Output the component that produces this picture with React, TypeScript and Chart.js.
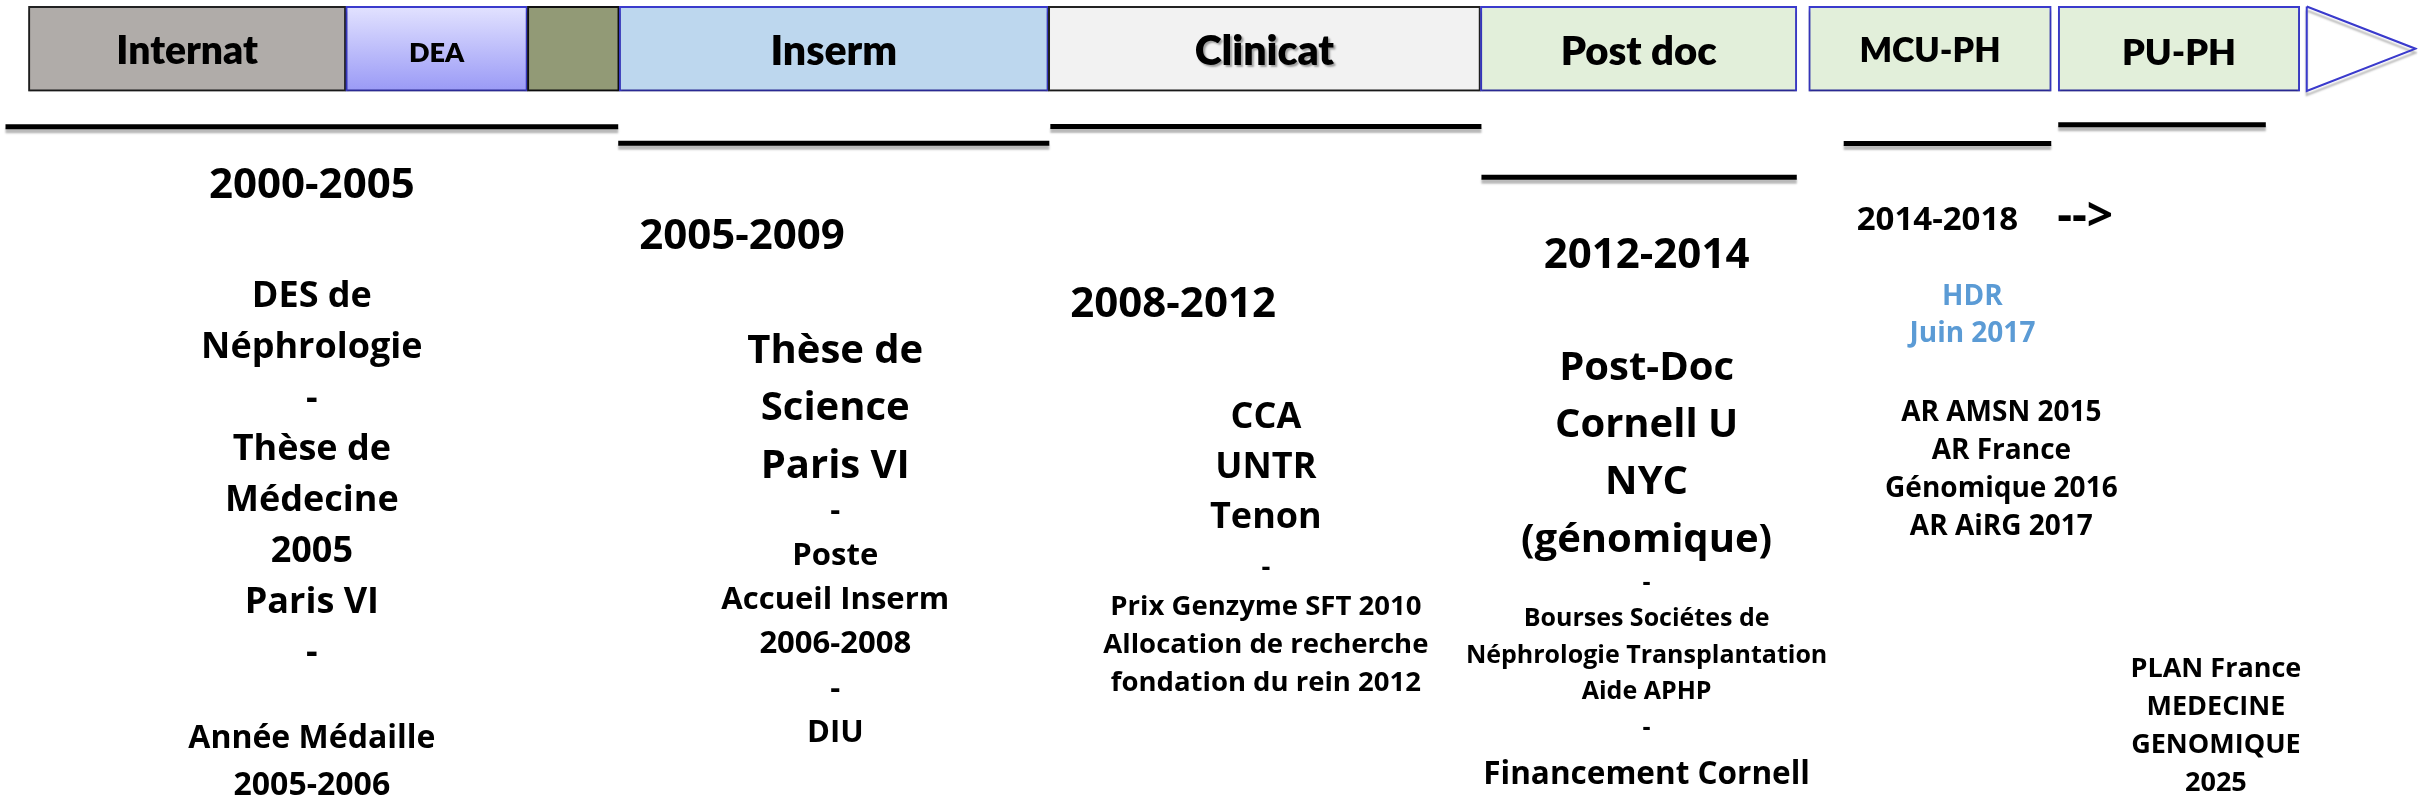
import React, { useEffect, useRef } from 'react';
import { Chart, registerables } from 'chart.js';

Chart.register(...registerables);

const CANVAS_W = 2420;
const CANVAS_H = 807;

// ---- Top band: career segments (timeline units along the band) ----
const segmentLabels = ['Internat', 'DEA', '', 'Inserm', 'Clinicat', 'Post doc', 'MCU-PH', 'PU-PH'];
const segmentStart = [26, 344, 526, 618, 1048, 1481, 1810, 2060];
const segmentEnd = [344, 526, 618, 1048, 1481, 1798, 2053, 2302];
const bandLevel = 46.5;

// Arrow head at the end of the band
const arrowX = [2309, 2418, 2309, 2309];
const arrowY = [4, 46.5, 89, 4];

// ---- Period rules under the band ----
const periodStart = [3, 617, 1050, 1482, 1845, 2060];
const periodEnd = [617, 1049, 1482, 1798, 2053, 2268];
const periodLevel = [125, 141.7, 124.7, 175.8, 141.8, 123];

// ---- Texts ----
const periodHeaders = ['2000-2005', '2005-2009', '2008-2012', '2012-2014', '2014-2018', '-->'];
const col1Main = ['DES de', 'Néphrologie', '-', 'Thèse de', 'Médecine', '2005', 'Paris VI', '-'];
const col1Sub = ['Année Médaille', '2005-2006'];
const col2Main = ['Thèse de', 'Science', 'Paris VI'];
const col2Sub = ['-', 'Poste', 'Accueil Inserm', '2006-2008', '-', 'DIU'];
const col3Main = ['CCA', 'UNTR', 'Tenon'];
const col3Sub = ['-', 'Prix Genzyme SFT 2010', 'Allocation de recherche', 'fondation du rein 2012'];
const col4Main = ['Post-Doc', 'Cornell U', 'NYC', '(génomique)'];
const col4Sub = ['-', 'Bourses Sociétes de', 'Néphrologie Transplantation', 'Aide APHP', '-'];
const col4Foot = ['Financement Cornell'];
const hdrLines = ['HDR', 'Juin 2017'];
const arLines = ['AR AMSN 2015', 'AR France', 'Génomique 2016', 'AR AiRG 2017'];
const planLines = ['PLAN France', 'MEDECINE', 'GENOMIQUE', '2025'];

// ---- Styles / layout (kept apart from the data) ----
const segmentFill = ['#B0ACA9', 'gradient', '#929A76', '#BDD7EE', '#F2F2F2', '#E2EFDA', '#E2EFDA', '#E2EFDA'];
const segmentBorder = ['#222222', '#3A3ACC', '#111111', '#3A3ACC', '#222222', '#3A3ACC', '#3A3ACC', '#3A3ACC'];
const segmentLabelSize = [39, 27, 0, 41, 41, 40, 34, 36];
const segmentLabelBaseline = [62, 60, 0, 62.7, 63, 63, 60, 62.7];

type Block = {
  lines: string[];
  x: number;
  y: number;
  step: number;
  size: number;
  align: CanvasTextAlign;
  color?: string;
};

const textBlocks: Block[] = [
  { lines: [periodHeaders[0]], x: 310, y: 197, step: 0, size: 42, align: 'center' },
  { lines: [periodHeaders[1]], x: 638, y: 248.5, step: 0, size: 42, align: 'left' },
  { lines: [periodHeaders[2]], x: 1070, y: 316.5, step: 0, size: 42, align: 'left' },
  { lines: [periodHeaders[3]], x: 1647.5, y: 267.6, step: 0, size: 42, align: 'center' },
  { lines: [periodHeaders[4]], x: 1858, y: 229, step: 0, size: 33, align: 'left' },
  { lines: [periodHeaders[5]], x: 2059, y: 230, step: 0, size: 46, align: 'left' },
  { lines: col1Main, x: 310, y: 306.7, step: 51.2, size: 36, align: 'center' },
  { lines: col1Sub, x: 310, y: 750, step: 47, size: 32, align: 'center' },
  { lines: col2Main, x: 834.5, y: 363, step: 57.5, size: 40, align: 'center' },
  { lines: col2Sub, x: 834.5, y: 521, step: 44.6, size: 31, align: 'center' },
  { lines: col3Main, x: 1266, y: 428, step: 50.5, size: 36, align: 'center' },
  { lines: col3Sub, x: 1266, y: 577.5, step: 38.5, size: 27.5, align: 'center' },
  { lines: col4Main, x: 1647.5, y: 380, step: 57.5, size: 40, align: 'center' },
  { lines: col4Sub, x: 1647.5, y: 591, step: 36.6, size: 25, align: 'center' },
  { lines: col4Foot, x: 1647.5, y: 786.5, step: 0, size: 31.5, align: 'center' },
  { lines: hdrLines, x: 1974, y: 304, step: 38, size: 28, align: 'center', color: '#5B9BD5' },
  { lines: arLines, x: 2003, y: 421.6, step: 38.1, size: 28, align: 'center' },
  { lines: planLines, x: 2218, y: 679, step: 38, size: 27, align: 'center' },
];

const BODY_FONT = '"Open Sans", "DejaVu Sans", sans-serif';
const BAND_FONT = 'Lato, "Open Sans", sans-serif';

const shadowPlugin = {
  id: 'softShadow',
  beforeDatasetDraw(chart: any) {
    const ctx = chart.ctx;
    ctx.save();
    ctx.shadowColor = 'rgba(0,0,0,0.28)';
    ctx.shadowOffsetX = 0;
    ctx.shadowOffsetY = 4;
    ctx.shadowBlur = 2;
  },
  afterDatasetDraw(chart: any) {
    chart.ctx.restore();
  },
};

const textPlugin = {
  id: 'timelineText',
  afterDatasetsDraw(chart: any) {
    const ctx: CanvasRenderingContext2D = chart.ctx;
    const xs = chart.scales.x;
    const ys = chart.scales.y;
    ctx.save();
    ctx.textBaseline = 'alphabetic';

    // band labels
    segmentLabels.forEach((label, i) => {
      if (!label) return;
      const cx = xs.getPixelForValue((segmentStart[i] + segmentEnd[i]) / 2);
      const by = ys.getPixelForValue(segmentLabelBaseline[i]);
      ctx.save();
      ctx.font = `800 ${segmentLabelSize[i]}px ${BAND_FONT}`;
      ctx.textAlign = 'center';
      ctx.fillStyle = '#000000';
      if (label === 'Clinicat') {
        ctx.shadowColor = 'rgba(0,0,0,0.35)';
        ctx.shadowOffsetX = 2;
        ctx.shadowOffsetY = 2;
        ctx.shadowBlur = 2;
      }
      ctx.fillText(label, cx, by);
      ctx.restore();
    });

    // text blocks
    textBlocks.forEach((b) => {
      ctx.font = `bold ${b.size}px ${BODY_FONT}`;
      ctx.textAlign = b.align;
      ctx.fillStyle = b.color || '#000000';
      b.lines.forEach((line, k) => {
        ctx.fillText(line, xs.getPixelForValue(b.x), ys.getPixelForValue(b.y + k * b.step));
      });
    });
    ctx.restore();
  },
};

export default function App() {
  const canvasRef = useRef<HTMLCanvasElement | null>(null);

  useEffect(() => {
    const canvas = canvasRef.current;
    if (!canvas) return;

    const DEA_INDEX = segmentLabels.indexOf('DEA');

    const barData = segmentLabels.map((_, i) => ({ x: [segmentStart[i], segmentEnd[i]], y: bandLevel }));

    const lineSets = periodStart.map((s, i) => ({
      type: 'line' as const,
      data: [
        { x: s, y: periodLevel[i] },
        { x: periodEnd[i], y: periodLevel[i] },
      ],
      borderColor: '#000000',
      borderWidth: 5,
      pointRadius: 0,
      fill: false,
      borderCapStyle: 'butt' as const,
    }));

    const chart = new Chart(canvas, {
      type: 'bar',
      data: {
        datasets: [
          {
            type: 'bar',
            indexAxis: 'y',
            data: barData as any,
            barThickness: 85,
            borderWidth: 2,
            borderSkipped: false,
            borderColor: segmentBorder,
            backgroundColor: (c: any) => {
              const i = c.dataIndex;
              if (i !== DEA_INDEX) return segmentFill[i] || '#ffffff';
              const ys = c.chart.scales && c.chart.scales.y;
              if (!ys) return '#BDBDFB';
              const top = ys.getPixelForValue(bandLevel - 42.5);
              const bottom = ys.getPixelForValue(bandLevel + 42.5);
              const g = c.chart.ctx.createLinearGradient(0, top, 0, bottom);
              g.addColorStop(0, '#E2E2FF');
              g.addColorStop(1, '#9A9AF6');
              return g;
            },
          } as any,
          ...lineSets,
          {
            type: 'line',
            data: arrowX.map((x, i) => ({ x, y: arrowY[i] })),
            borderColor: '#3A3ACC',
            borderWidth: 2,
            pointRadius: 0,
            fill: false,
            tension: 0,
            borderJoinStyle: 'miter',
          } as any,
        ],
      },
      options: {
        animation: false,
        responsive: false,
        maintainAspectRatio: false,
        devicePixelRatio: 1,
        layout: { padding: 0 },
        plugins: {
          legend: { display: false },
          tooltip: { enabled: false },
        },
        events: [],
        scales: {
          x: { type: 'linear', min: 0, max: CANVAS_W, display: false, offset: false, grid: { offset: false } },
          y: { type: 'linear', min: 0, max: CANVAS_H, reverse: true, display: false, offset: false, grid: { offset: false } },
        },
      },
      plugins: [shadowPlugin, textPlugin],
    } as any);

    let alive = true;
    if ((document as any).fonts && (document as any).fonts.ready) {
      (document as any).fonts.ready.then(() => {
        if (alive) chart.update();
      });
    }

    return () => {
      alive = false;
      chart.destroy();
    };
  }, []);

  return (
    <div style={{ position: 'absolute', left: 0, top: 0, width: CANVAS_W, height: CANVAS_H, background: '#ffffff' }}>
      <canvas ref={canvasRef} width={CANVAS_W} height={CANVAS_H} style={{ display: 'block', width: CANVAS_W, height: CANVAS_H }} />
    </div>
  );
}
